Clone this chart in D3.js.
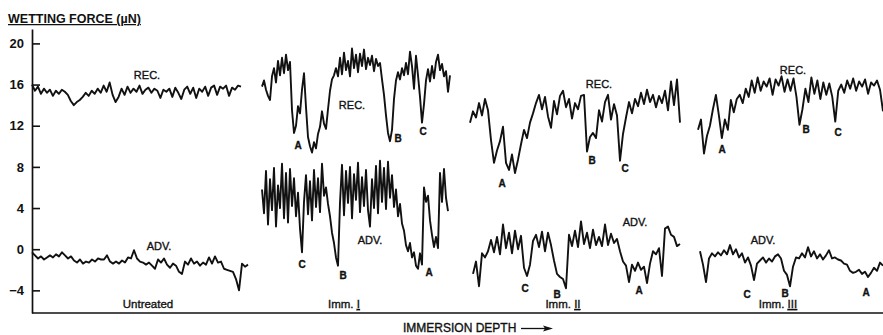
<!DOCTYPE html>
<html>
<head>
<meta charset="utf-8">
<script src="https://cdn.jsdelivr.net/npm/d3@7/dist/d3.min.js"></script>
<style>
  html, body { margin: 0; padding: 0; background: #fff; }
  svg { display: block; }
  text { font-family: "Liberation Sans", Arial, sans-serif; fill: #111; }
</style>
</head>
<body>
<svg id="chart" width="883" height="335"></svg>
<script>
// Wetting force (µN) recorded along immersion depth, sampled at equal depth steps.
const yTicks = [-4, 0, 4, 8, 12, 16, 20];
const panelNames = ["Untreated", "Imm. I", "Imm. II", "Imm. III"];

const untreatedRec = [16.0, 15.4, 15.8, 15.1, 15.6, 15.2, 15.5, 14.9, 15.4, 15.1, 15.5, 15.3, 15.0, 14.4, 14.0, 14.3,
  14.5, 14.8, 15.2, 14.9, 15.4, 15.1, 15.6, 15.2, 15.9, 15.3, 16.2, 15.0, 14.3, 14.8, 15.6, 15.0, 15.8, 15.2, 15.6,
  15.3, 15.9, 15.1, 15.5, 15.7, 15.2, 15.6, 15.4, 14.7, 15.5, 15.3, 15.6, 14.8, 15.7, 15.2, 14.6, 15.5, 15.8, 15.1,
  15.7, 14.7, 15.6, 15.3, 15.8, 14.9, 15.7, 15.9, 15.0, 15.8, 15.6, 15.9, 14.9, 15.7, 15.5, 15.9, 15.8];
const untreatedAdv = [-0.3, -0.6, -0.9, -0.7, -1.0, -0.8, -0.6, -0.8, -0.5, -0.7, -0.3, -0.6, -0.9, -0.7, -1.1, -1.3,
  -1.0, -1.4, -1.2, -1.3, -1.0, -1.2, -0.9, -1.0, -1.0, -0.6, -1.2, -1.4, -1.2, -1.4, -1.1, -1.3, -0.8, -0.9, -0.1,
  -0.9, -1.2, -1.3, -1.5, -1.3, -1.6, -1.9, -1.0, -1.3, -0.9, -1.5, -1.8, -1.4, -1.6, -2.2, -2.4, -1.2, -1.5, -0.9,
  -1.4, -1.2, -1.6, -1.3, -1.5, -0.8, -1.4, -0.7, -1.3, -1.2, -1.9, -2.0, -2.1, -2.2, -2.9, -4.0, -1.4, -1.7, -1.5];

const imm1Rec = [15.8, 16.4, 15.5, 14.9, 14.5, 16.8, 17.6, 16.2, 18.3, 16.9, 18.6, 17.1, 18.9, 17.4, 18.2, 13.5,
  11.3, 12.0, 13.9, 13.2, 15.5, 17.1, 13.8, 10.9, 10.0, 9.4, 10.4, 9.8, 11.2, 11.9, 13.4, 12.2, 11.7, 13.6, 15.4,
  16.5, 16.9, 17.6, 16.8, 18.6, 17.0, 19.1, 17.4, 18.3, 16.8, 19.5, 17.6, 18.9, 17.2, 19.0, 17.8, 19.4, 17.5, 18.6,
  17.9, 18.8, 17.3, 18.5, 17.8, 18.1, 16.5, 15.0, 13.0, 11.3, 10.5, 11.6, 14.6, 16.4, 17.2, 16.5, 17.6, 16.9, 18.1,
  17.0, 19.2, 17.8, 15.6, 18.8, 16.9, 14.8, 12.3, 14.1, 16.4, 17.5, 16.3, 17.8, 16.6, 18.2, 18.9, 17.4, 18.0, 16.8,
  17.3, 15.3, 16.9];
const imm1Adv = [5.8, 3.5, 7.6, 2.4, 6.8, 3.8, 7.9, 2.2, 6.2, 4.0, 8.3, 3.0, 7.4, 2.6, 7.8, 4.2, 6.9, 3.2, 5.5, 2.0,
  -0.3, 4.6, 7.2, 3.4, 6.6, 2.8, 7.7, 4.1, 6.9, 3.6, 8.3, 5.2, 6.0, 4.4, 3.2, 1.6, 0.6, -0.8, -1.6, 4.5, 8.2, 3.3,
  7.6, 4.5, 8.0, 3.0, 7.3, 4.8, 8.4, 3.6, 7.0, 4.2, 7.7, 3.8, 2.2, 6.8, 4.0, 8.1, 3.5, 8.6, 4.6, 7.9, 3.9, 8.5, 5.0,
  7.2, 4.1, 5.8, 3.2, 4.4, 2.5, 1.8, 0.4, -0.2, 0.6, -0.8, -0.3, -1.6, -1.9, -0.4, -1.5, 6.0, 4.6, 5.2, 2.8, 1.4,
  0.2, 1.2, 0.1, 7.4, 4.6, 7.8, 5.0, 3.7];

const imm2Rec = [12.3, 13.4, 12.8, 14.2, 13.0, 14.6, 13.5, 10.6, 8.4, 9.6, 10.5, 11.9, 8.4, 7.7, 9.2, 7.4, 8.7, 10.2,
  11.6, 10.8, 12.3, 13.2, 14.2, 15.0, 13.6, 14.8, 12.9, 11.8, 14.4, 13.1, 14.9, 15.4, 13.8, 14.6, 12.7, 14.2, 13.6,
  14.9, 15.0, 9.5, 10.9, 11.3, 10.8, 13.5, 12.4, 14.3, 15.0, 12.6, 14.1, 13.0, 8.6, 11.2, 12.8, 14.3, 13.2, 14.6,
  13.9, 15.2, 14.1, 15.5, 14.3, 15.0, 13.8, 14.9, 14.2, 15.4, 13.5, 16.3, 14.0, 16.5, 12.3];
const imm2Adv = [-2.4, -1.2, -3.6, -0.4, -0.8, -0.2, 0.9, -0.3, 1.2, -0.5, 2.4, 0.1, 1.6, -0.4, 1.8, 0.0, 1.3, -1.8,
  -2.6, -1.5, 0.8, 1.4, 0.2, 1.7, -0.2, 1.6, 0.4, -1.1, -2.4, -2.7, -2.9, -3.8, 1.4, 0.3, 1.8, 0.2, 2.7, 0.5, 1.6,
  0.1, 1.9, 0.4, 1.2, 0.3, 2.4, 0.4, 1.5, 0.6, 1.0, -0.2, -1.2, -1.6, -3.2, -1.5, -2.1, -1.3, -2.0, -1.7, -3.3,
  -1.4, -0.2, -0.5, 0.1, -2.6, 2.0, 2.2, 1.4, 1.2, 0.3, 0.5];

const imm3Rec = [11.6, 12.6, 9.3, 11.0, 12.0, 13.6, 15.0, 13.0, 10.8, 12.6, 11.6, 14.5, 13.3, 14.6, 15.0, 14.2, 15.6,
  14.8, 16.4, 15.2, 16.7, 15.4, 16.3, 15.8, 16.6, 15.0, 16.5, 15.9, 16.8, 15.3, 16.5, 15.4, 16.6, 14.8, 12.1, 13.6,
  15.6, 14.3, 16.7, 15.1, 16.4, 14.6, 16.2, 15.0, 16.1, 14.8, 12.4, 15.4, 16.0, 15.2, 16.4, 15.6, 16.6, 15.4, 16.3,
  15.8, 16.5, 15.1, 16.2, 15.9, 16.4, 15.5, 13.4];
const imm3Adv = [-0.2, -1.5, -3.2, -0.9, -0.4, -0.7, -0.3, -0.6, -0.1, -0.5, 0.4, -0.5, 0.0, -0.8, -0.4, -1.3, -0.8,
  -1.6, -3.0, -1.4, -1.1, -0.8, -1.3, -0.9, -1.2, -0.7, -0.5, -0.9, -2.1, -2.5, -3.6, -1.7, -0.8, -0.9, -0.4, -0.8,
  0.2, -0.7, -0.2, -0.9, -0.5, -1.0, -0.6, -0.1, -0.9, -0.8, -1.0, -1.1, -1.4, -1.5, -2.1, -2.3, -2.2, -2.0, -2.4,
  -2.2, -2.7, -2.3, -1.8, -2.1, -1.3, -1.6];

// Horizontal extent of each recorded run on the page.
const layout = [
  { name: panelNames[0], rec: untreatedRec, adv: untreatedAdv, recX: [32, 241], advX: [32, 248], labelX: 148 },
  { name: panelNames[1], rec: imm1Rec, adv: imm1Adv, recX: [262, 450], advX: [262, 448], labelX: 344 },
  { name: panelNames[2], rec: imm2Rec, adv: imm2Adv, recX: [470, 680], advX: [473, 680], labelX: 563 },
  { name: panelNames[3], rec: imm3Rec, adv: imm3Adv, recX: [698, 883], advX: [700, 883], labelX: 778 }
];

// Curve captions and marked dips.
const notes = [
  { t: "REC.", x: 147, y: 75 }, { t: "ADV.", x: 159, y: 246 },
  { t: "REC.", x: 352, y: 105 }, { t: "ADV.", x: 370, y: 240 },
  { t: "A", x: 298, y: 145 }, { t: "B", x: 398, y: 138 }, { t: "C", x: 423, y: 131 },
  { t: "C", x: 302, y: 264 }, { t: "B", x: 343, y: 275 }, { t: "A", x: 429, y: 272 },
  { t: "REC.", x: 599, y: 84 }, { t: "ADV.", x: 635, y: 222 },
  { t: "A", x: 502, y: 183 }, { t: "B", x: 592, y: 160 }, { t: "C", x: 625, y: 168 },
  { t: "C", x: 525, y: 288 }, { t: "B", x: 557, y: 294 }, { t: "A", x: 639, y: 290 },
  { t: "REC.", x: 793, y: 70 }, { t: "ADV.", x: 763, y: 240 },
  { t: "A", x: 722, y: 149 }, { t: "B", x: 806, y: 129 }, { t: "C", x: 838, y: 132 },
  { t: "C", x: 747, y: 294 }, { t: "B", x: 785, y: 293 }, { t: "A", x: 866, y: 292 }
];

const svg = d3.select("#chart");
const axisX = 32, plotTop = 29, plotBottom = 313, plotRight = 883;

const y = d3.scaleLinear().domain([-6.2, 21.4]).range([plotBottom, plotTop]);

// Force axis: ticks point inward, labels on the left.
const yAxis = d3.axisLeft(y).tickValues(yTicks).tickSizeInner(-8).tickSizeOuter(0).tickPadding(8);
const ga = svg.append("g").attr("transform", `translate(${axisX},0)`).call(yAxis);
ga.select(".domain").attr("stroke", "#111").attr("stroke-width", 1.7);
ga.selectAll(".tick line").attr("stroke", "#111").attr("stroke-width", 1.6);
ga.selectAll(".tick text")
  .style("font-size", "13px").style("font-weight", "bold").attr("fill", "#111");

// Depth axis.
svg.append("line").attr("x1", axisX).attr("x2", plotRight).attr("y1", plotBottom).attr("y2", plotBottom)
  .attr("stroke", "#111").attr("stroke-width", 1.7);

const line = d3.line().x(d => d[0]).y(d => d[1]).curve(d3.curveLinear);

function trace(values, extent) {
  const x = d3.scaleLinear().domain([0, values.length - 1]).range(extent);
  svg.append("path")
    .attr("d", line(values.map((v, i) => [x(i), y(v)])))
    .attr("fill", "none").attr("stroke", "#111").attr("stroke-width", 1.9)
    .attr("stroke-linejoin", "round");
}

const inked = sel => sel.attr("stroke", "#111").attr("stroke-width", 0.35);

layout.forEach(p => {
  trace(p.rec, p.recX);
  trace(p.adv, p.advX);
  const parts = p.name.split(" ");
  const t = svg.append("text").attr("x", p.labelX).attr("y", 308)
    .attr("text-anchor", "middle").style("font-size", "11.5px").call(inked);
  if (parts.length > 1) {
    t.append("tspan").text(parts[0] + " ");
    t.append("tspan").text(parts[1]).style("text-decoration", "underline");
  } else {
    t.text(p.name);
  }
});

svg.selectAll("text.note").data(notes).join("text").attr("class", "note")
  .attr("x", d => d.x).attr("y", d => d.y).attr("dy", "0.35em")
  .attr("text-anchor", "middle").style("font-size", d => d.t.length > 1 ? "11px" : "10px")
  .style("font-weight", d => d.t.length > 1 ? "normal" : "bold")
  .call(inked)
  .text(d => d.t);

// Axis titles.
svg.append("text").attr("x", 8).attr("y", 23).style("font-size", "12.5px").style("font-weight", "bold")
  .style("text-decoration", "underline").text("WETTING FORCE (µN)");
svg.append("text").attr("x", 403).attr("y", 332).style("font-size", "12px").call(inked)
  .text("IMMERSION DEPTH");
svg.append("line").attr("x1", 521).attr("x2", 548).attr("y1", 328.5).attr("y2", 328.5)
  .attr("stroke", "#111").attr("stroke-width", 1.3);
svg.append("path").attr("d", "M553,328.5 L543,325.5 L545,328.5 L543,331.5 Z").attr("fill", "#111");
</script>
</body>
</html>
